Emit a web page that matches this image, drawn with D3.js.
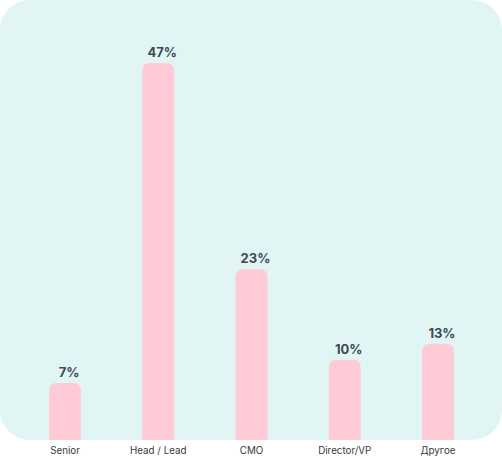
<!DOCTYPE html>
<html lang="en">
<head>
  <meta charset="UTF-8" />
  <title>Bar chart</title>
  <style>
    html, body { margin: 0; padding: 0; background: #fff; }
    .panel { fill: #e2f5f5; }
    .bar { fill: #ffcbd6; }
    .value-label {
      fill: #3b4a54;
      font-family: Inter, "Noto Sans", sans-serif;
      font-weight: 700;
      font-size: 13px;
      text-anchor: middle;
    }
    .xaxis text {
      fill: #3a3a3a;
      font-family: Inter, "Noto Sans", sans-serif;
      font-size: 9.8px;
    }
  </style>
</head>
<body>
  <script src="https://cdn.jsdelivr.net/npm/d3@7/dist/d3.min.js"></script>
  <script>
    // data
    var categories = ["Senior", "Head / Lead", "CMO", "Director/VP", "Другое"];
    var labels = ["7%", "47%", "23%", "10%", "13%"];
    // bar heights as drawn (percent units)
    var barValues = [7.1, 47, 21.3, 10, 12];

    var w = 502;
    var h = 457;
    var base = 440; // bottom of the panel / bars

    var svg = d3.select("body").append("svg")
      .attr("width", w)
      .attr("height", h);

    svg.append("rect")
      .attr("class", "panel")
      .attr("x", 0)
      .attr("y", 0)
      .attr("width", w)
      .attr("height", base)
      .attr("rx", 30)
      .attr("ry", 30);

    var xScale = d3.scaleBand()
      .domain(categories)
      .range([18.4, 484.6])
      .paddingInner(0.657)
      .paddingOuter(0.3285);

    var yScale = d3.scaleLinear()
      .domain([0, 47])
      .range([base, 63]);

    var r = 8;
    function barPath(d, i) {
      var x0 = xScale(categories[i]);
      var x1 = x0 + xScale.bandwidth();
      var y0 = yScale(d);
      return "M" + x0 + "," + base +
        "V" + (y0 + r) +
        "Q" + x0 + "," + y0 + " " + (x0 + r) + "," + y0 +
        "H" + (x1 - r) +
        "Q" + x1 + "," + y0 + " " + x1 + "," + (y0 + r) +
        "V" + base + "Z";
    }

    svg.selectAll(".bar")
      .data(barValues)
      .enter()
      .append("path")
      .attr("class", "bar")
      .attr("d", barPath);

    svg.selectAll(".value-label")
      .data(barValues)
      .enter()
      .append("text")
      .attr("class", "value-label")
      .attr("x", function(d, i) {
        return xScale(categories[i]) + xScale.bandwidth() / 2 + 4;
      })
      .attr("y", function(d) { return yScale(d) - 6; })
      .text(function(d, i) { return labels[i]; });

    var xAxis = d3.axisBottom(xScale)
      .tickSize(0)
      .tickPadding(7);

    svg.append("g")
      .attr("class", "xaxis")
      .attr("transform", "translate(0," + base + ")")
      .call(xAxis)
      .call(function(g) { g.select(".domain").remove(); });
  </script>
</body>
</html>
